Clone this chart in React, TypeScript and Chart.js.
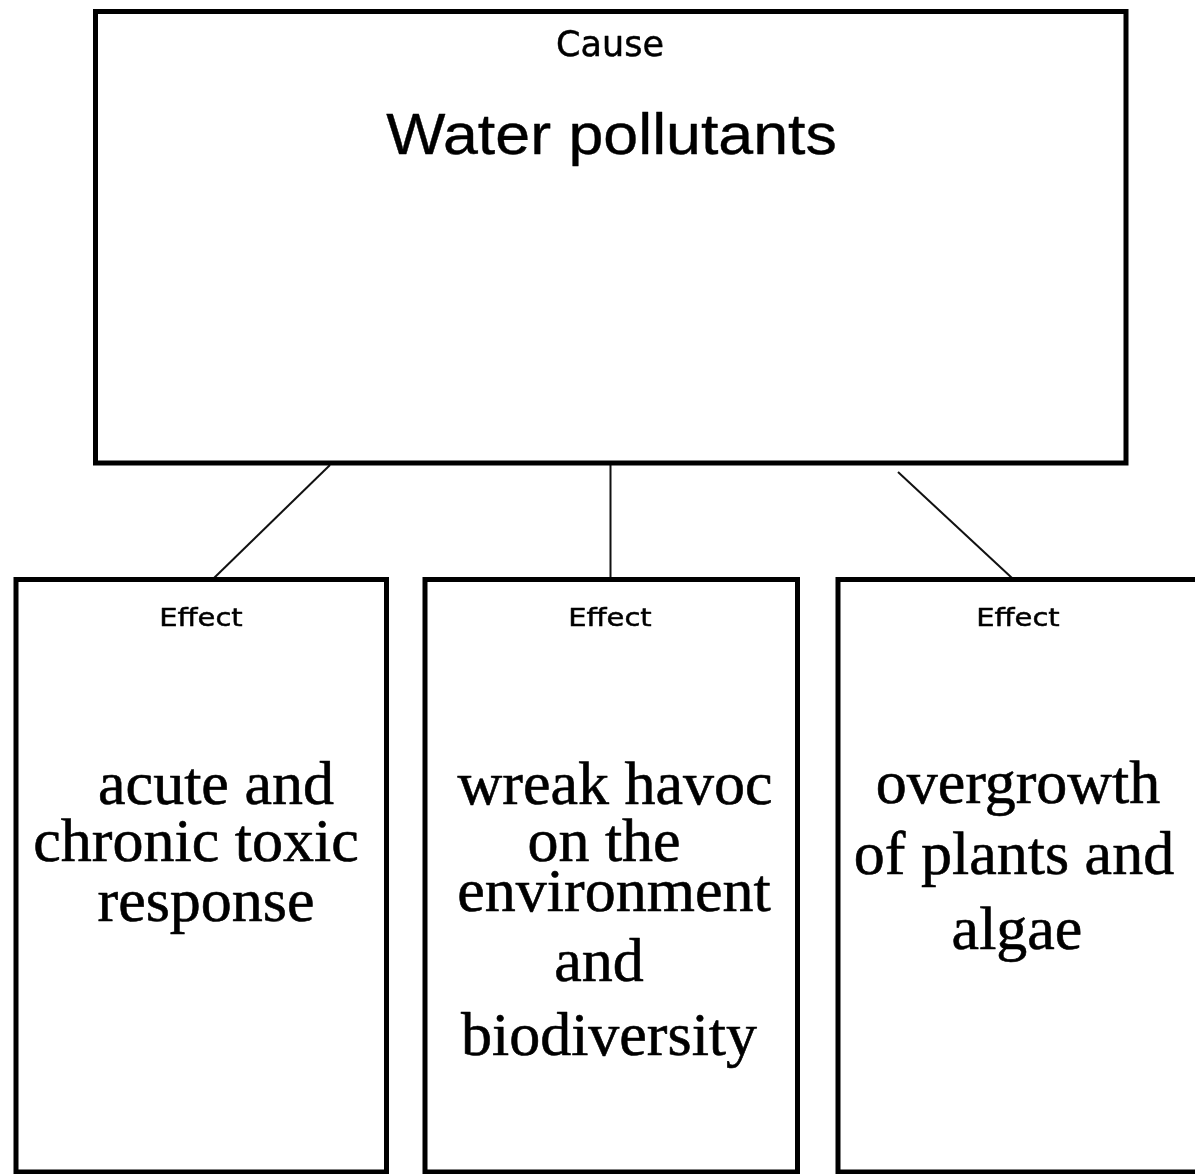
import React, { useEffect, useRef } from "react";
import { Chart, registerables } from "chart.js";

Chart.register(...registerables);

const W = 1195;
const H = 1174;

// ---- text content ----
const causeHeading = "Cause";
const causeTitle = "Water pollutants";
const effectHeadings = ["Effect", "Effect", "Effect"];
const effectLines = [
  ["acute and", "chronic toxic", "response"],
  ["wreak havoc", "on the", "environment", "and", "biodiversity"],
  ["overgrowth", "of plants and", "algae"],
];

// ---- diagram geometry (diagram units = canvas px via linear scales) ----
const causeBoxX = [95.5, 1126];
const causeBoxY = [11.5, 463];
const effectBoxLeft = [16, 425, 838];
const effectBoxRight = [386.5, 797.5, 1210];
const effectBoxTop = 579.5;
const effectBoxBottom = 1172;
const connectorFromX = [330, 610.5, 898];
const connectorFromY = [465, 463, 472];
const connectorToX = [214, 610.5, 1012];
const connectorToY = [578, 579, 578];

// ---- text layout ----
const causeHeadingPos = [610, 56];
const causeTitlePos = [611.5, 154];
const effectHeadingX = [201, 610, 1018];
const effectHeadingY = 626;
const effectLineX = [
  [216, 196, 206],
  [615, 604, 614, 599, 609],
  [1018, 1014, 1017],
];
const effectLineY = [
  [804, 861, 921],
  [804, 861, 911, 981, 1055],
  [803, 874, 949],
];

function rect(x0: number, y0: number, x1: number, y1: number) {
  return [
    { x: x0, y: y0 },
    { x: x1, y: y0 },
    { x: x1, y: y1 },
    { x: x0, y: y1 },
    { x: x0, y: y0 },
    { x: x1, y: y0 },
  ];
}

const bgPlugin = {
  id: "bgWhite",
  beforeDraw(chart: any) {
    const ctx = chart.ctx;
    ctx.save();
    ctx.fillStyle = "#ffffff";
    ctx.fillRect(0, 0, chart.width, chart.height);
    ctx.restore();
  },
};

const textPlugin = {
  id: "diagramText",
  afterDatasetsDraw(chart: any) {
    const ctx = chart.ctx;
    const xs = chart.scales.x;
    const ys = chart.scales.y;
    const draw = (
      text: string,
      x: number,
      y: number,
      font: string,
      sx: number,
      stroke: number
    ) => {
      ctx.save();
      ctx.translate(xs.getPixelForValue(x), ys.getPixelForValue(y));
      ctx.scale(sx, 1);
      ctx.font = font;
      ctx.textAlign = "center";
      ctx.textBaseline = "alphabetic";
      ctx.fillStyle = "#000000";
      ctx.fillText(text, 0, 0);
      if (stroke > 0) {
        ctx.strokeStyle = "#000000";
        ctx.lineWidth = stroke;
        ctx.lineJoin = "round";
        ctx.strokeText(text, 0, 0);
      }
      ctx.restore();
    };
    draw(causeHeading, causeHeadingPos[0], causeHeadingPos[1], '35px "DejaVu Sans"', 1.0, 0.5);
    draw(causeTitle, causeTitlePos[0], causeTitlePos[1], '57px "Liberation Sans"', 1.1, 0.4);
    effectHeadings.forEach((h, i) => {
      draw(h, effectHeadingX[i], effectHeadingY, '25px "DejaVu Sans"', 1.16, 0.5);
    });
    effectLines.forEach((lines, i) => {
      lines.forEach((line, j) => {
        draw(line, effectLineX[i][j], effectLineY[i][j], '62px "Liberation Serif"', 1.0, 0.6);
      });
    });
  },
};

export default function App() {
  const ref = useRef<HTMLCanvasElement | null>(null);

  useEffect(() => {
    if (!ref.current) return;
    const boxStyle = {
      showLine: true,
      borderColor: "#000000",
      borderWidth: 5,
      pointRadius: 0,
      borderJoinStyle: "miter" as const,
      borderCapStyle: "square" as const,
      fill: false,
      clip: false as any,
      tension: 0,
    };
    const datasets: any[] = [];
    datasets.push({
      ...boxStyle,
      data: rect(causeBoxX[0], causeBoxY[0], causeBoxX[1], causeBoxY[1]),
    });
    effectBoxLeft.forEach((x0, i) => {
      datasets.push({
        ...boxStyle,
        data: rect(x0, effectBoxTop, effectBoxRight[i], effectBoxBottom),
      });
    });
    connectorFromX.forEach((fx, i) => {
      datasets.push({
        showLine: true,
        borderColor: "#111111",
        borderWidth: 2,
        pointRadius: 0,
        clip: false as any,
        tension: 0,
        data: [
          { x: fx, y: connectorFromY[i] },
          { x: connectorToX[i], y: connectorToY[i] },
        ],
      });
    });

    const chart = new Chart(ref.current, {
      type: "scatter",
      data: { datasets },
      options: {
        animation: false,
        responsive: false,
        maintainAspectRatio: false,
        devicePixelRatio: 1,
        layout: { padding: 0 },
        events: [],
        plugins: {
          legend: { display: false },
          tooltip: { enabled: false },
          title: { display: false },
        },
        scales: {
          x: { type: "linear", min: 0, max: W, display: false },
          y: { type: "linear", min: 0, max: H, reverse: true, display: false },
        },
      },
      plugins: [bgPlugin, textPlugin],
    });
    return () => chart.destroy();
  }, []);

  return (
    <div
      style={{
        position: "absolute",
        left: 0,
        top: 0,
        width: W,
        height: H,
        background: "#ffffff",
      }}
    >
      <canvas ref={ref} width={W} height={H} style={{ display: "block" }} />
    </div>
  );
}
